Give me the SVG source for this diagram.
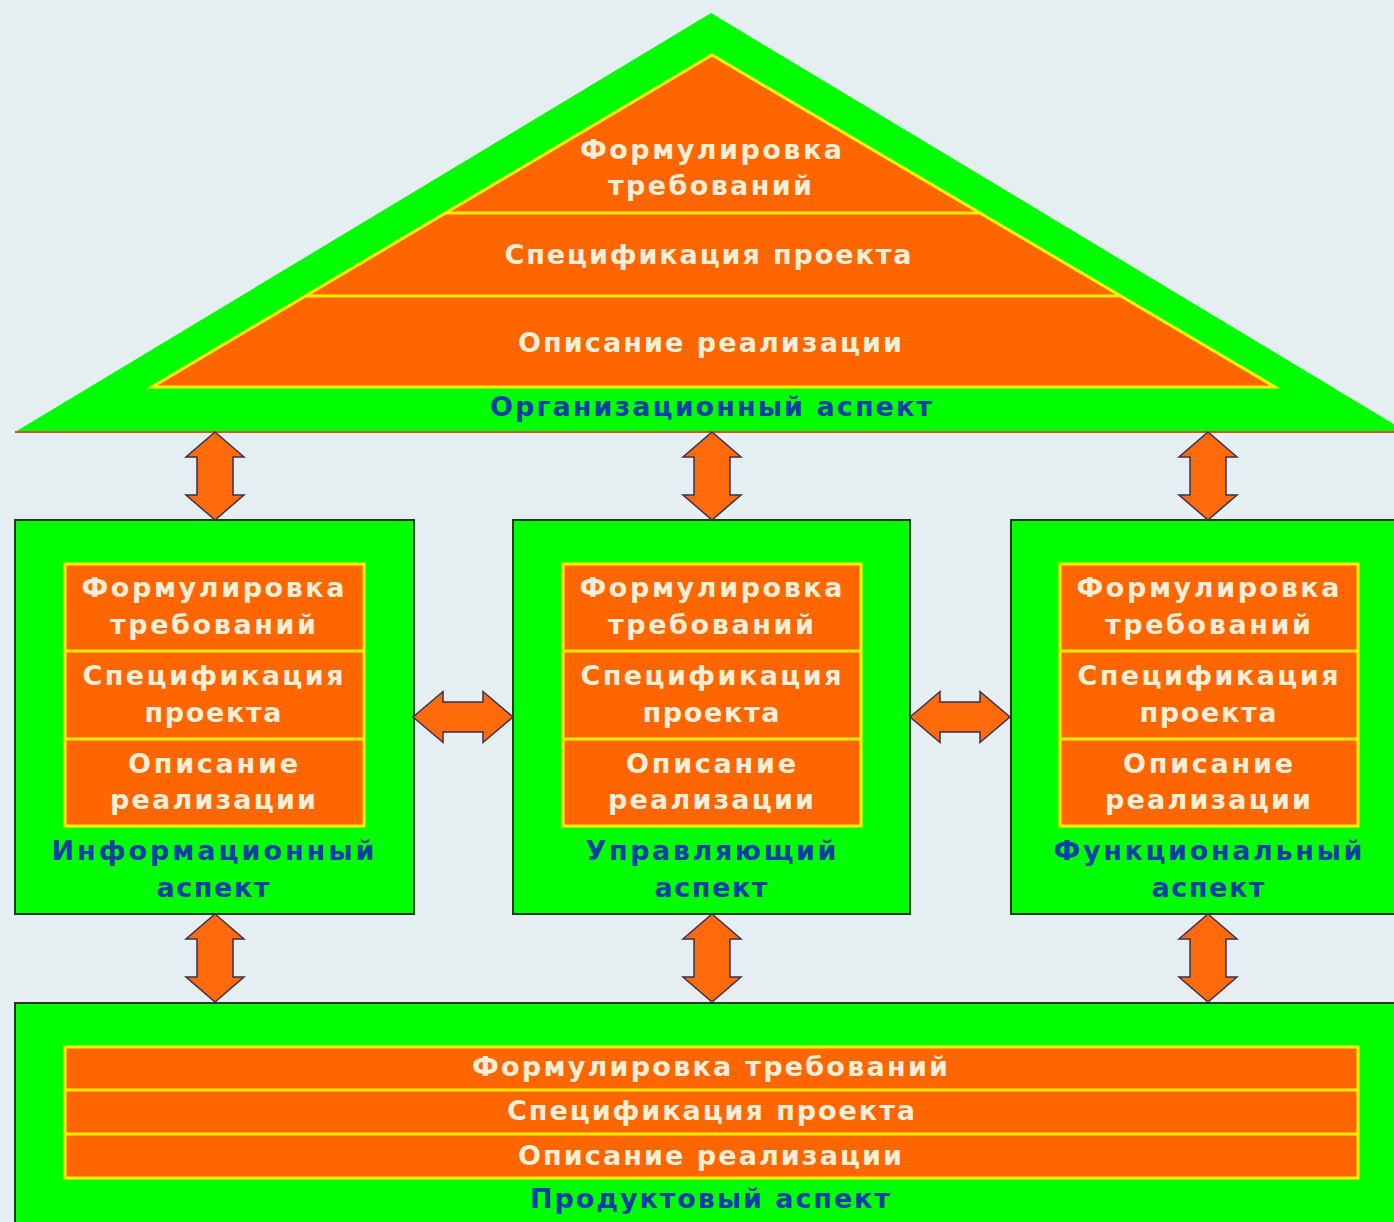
<svg xmlns="http://www.w3.org/2000/svg" width="1394" height="1222" viewBox="0 0 1394 1222">
<style>
.bg{fill:#e5eef0}
.green{fill:#00ff00}
.box{fill:#00ff00;stroke:#1f3a22;stroke-width:2}
.sec{fill:#ff6600;stroke:#ffee00;stroke-width:3}
.div{stroke:#ffee00;stroke-width:3}
.t{font-family:"DejaVu Sans","Verdana",sans-serif;font-weight:bold;font-size:27px;fill:#fdeed8;text-anchor:middle}
.l{font-family:"DejaVu Sans","Verdana",sans-serif;font-weight:bold;font-size:27px;fill:#0b3ea8;text-anchor:middle}
.arr{fill:#ff6a0a;stroke:#3a3050;stroke-width:1.5;stroke-linejoin:miter}
</style>
<defs>
<path id="va" d="M0,0 L29,25 L18,25 L18,63 L29,63 L0,88 L-29,63 L-18,63 L-18,25 L-29,25 Z"/>
<path id="ha" d="M0,0 L30,-25.5 L30,-15 L70,-15 L70,-25.5 L100,0 L70,25.5 L70,15 L30,15 L30,25.5 Z"/>
</defs>
<rect class="bg" x="0" y="0" width="1394" height="1222"/>

<g id="org">
<polygon class="green" points="711,13 1407,432 15,432"/>
<line x1="15" y1="432" x2="1394" y2="432" stroke="#c85a32" stroke-width="2"/>
<polygon class="sec" points="712,55 1275,387 152,387"/>
<line class="div" x1="445" y1="213" x2="980" y2="213"/>
<line class="div" x1="305" y1="296" x2="1119" y2="296"/>
<text class="t" x="711" y="159" textLength="262" lengthAdjust="spacing">Формулировка</text>
<text class="t" x="710" y="195" textLength="204" lengthAdjust="spacing">требований</text>
<text class="t" x="708" y="264" textLength="407" lengthAdjust="spacing">Спецификация проекта</text>
<text class="t" x="710" y="352" textLength="384" lengthAdjust="spacing">Описание реализации</text>
<text class="l" x="711" y="416" textLength="442" lengthAdjust="spacing">Организационный аспект</text>
</g>

<g id="info">
<rect class="box" x="15" y="520" width="399" height="394"/>
<rect class="sec" x="65" y="564" width="299" height="262"/>
<line class="div" x1="65" y1="651" x2="364" y2="651"/>
<line class="div" x1="65" y1="739" x2="364" y2="739"/>
<text class="t" x="213" y="597" textLength="263" lengthAdjust="spacing">Формулировка</text>
<text class="t" x="213" y="634" textLength="206" lengthAdjust="spacing">требований</text>
<text class="t" x="213" y="685" textLength="261" lengthAdjust="spacing">Спецификация</text>
<text class="t" x="213" y="722" textLength="137" lengthAdjust="spacing">проекта</text>
<text class="t" x="213" y="773" textLength="170" lengthAdjust="spacing">Описание</text>
<text class="t" x="213" y="809" textLength="206" lengthAdjust="spacing">реализации</text>
<text class="l" x="213" y="860" textLength="323" lengthAdjust="spacing">Информационный</text>
<text class="l" x="213" y="897" textLength="113" lengthAdjust="spacing">аспект</text>
</g>

<g id="control">
<rect class="box" x="513" y="520" width="397" height="394"/>
<rect class="sec" x="563" y="564" width="298" height="262"/>
<line class="div" x1="563" y1="651" x2="861" y2="651"/>
<line class="div" x1="563" y1="739" x2="861" y2="739"/>
<text class="t" x="711" y="597" textLength="263" lengthAdjust="spacing">Формулировка</text>
<text class="t" x="711" y="634" textLength="206" lengthAdjust="spacing">требований</text>
<text class="t" x="711" y="685" textLength="261" lengthAdjust="spacing">Спецификация</text>
<text class="t" x="711" y="722" textLength="137" lengthAdjust="spacing">проекта</text>
<text class="t" x="711" y="773" textLength="170" lengthAdjust="spacing">Описание</text>
<text class="t" x="711" y="809" textLength="206" lengthAdjust="spacing">реализации</text>
<text class="l" x="711" y="860" textLength="251" lengthAdjust="spacing">Управляющий</text>
<text class="l" x="711" y="897" textLength="113" lengthAdjust="spacing">аспект</text>
</g>

<g id="func">
<rect class="box" x="1011" y="520" width="400" height="394"/>
<rect class="sec" x="1060" y="564" width="298" height="262"/>
<line class="div" x1="1060" y1="651" x2="1358" y2="651"/>
<line class="div" x1="1060" y1="739" x2="1358" y2="739"/>
<text class="t" x="1208" y="597" textLength="263" lengthAdjust="spacing">Формулировка</text>
<text class="t" x="1208" y="634" textLength="206" lengthAdjust="spacing">требований</text>
<text class="t" x="1208" y="685" textLength="261" lengthAdjust="spacing">Спецификация</text>
<text class="t" x="1208" y="722" textLength="137" lengthAdjust="spacing">проекта</text>
<text class="t" x="1208" y="773" textLength="170" lengthAdjust="spacing">Описание</text>
<text class="t" x="1208" y="809" textLength="206" lengthAdjust="spacing">реализации</text>
<text class="l" x="1208" y="860" textLength="309" lengthAdjust="spacing">Функциональный</text>
<text class="l" x="1208" y="897" textLength="113" lengthAdjust="spacing">аспект</text>
</g>

<g id="product">
<rect class="box" x="15" y="1003" width="1396" height="230"/>
<rect class="sec" x="65" y="1047" width="1293" height="131"/>
<line class="div" x1="65" y1="1090" x2="1358" y2="1090"/>
<line class="div" x1="65" y1="1134" x2="1358" y2="1134"/>
<text class="t" x="710" y="1076" textLength="476" lengthAdjust="spacing">Формулировка требований</text>
<text class="t" x="711" y="1120" textLength="408" lengthAdjust="spacing">Спецификация проекта</text>
<text class="t" x="710" y="1165" textLength="384" lengthAdjust="spacing">Описание реализации</text>
<text class="l" x="710" y="1208" textLength="360" lengthAdjust="spacing">Продуктовый аспект</text>
</g>

<g id="connectors">
<use href="#va" class="arr" x="215" y="432"/>
<use href="#va" class="arr" x="712" y="432"/>
<use href="#va" class="arr" x="1208" y="432"/>
<use href="#va" class="arr" x="215" y="914"/>
<use href="#va" class="arr" x="712" y="914"/>
<use href="#va" class="arr" x="1208" y="914"/>
<use href="#ha" class="arr" x="413" y="717"/>
<use href="#ha" class="arr" x="910" y="717"/>
</g>
</svg>
